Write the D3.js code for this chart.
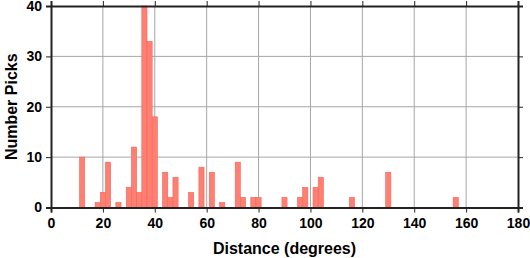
<!DOCTYPE html>
<html>
<head>
<meta charset="utf-8">
<script src="https://cdn.jsdelivr.net/npm/d3@7"></script>
<style>
  body { margin: 0; background: #fff; }
  text { font-family: "Liberation Sans", Arial, Helvetica, sans-serif; font-weight: bold; }
</style>
</head>
<body>
<svg id="hist" width="530" height="258"></svg>
<script>
// bin centres (degrees) and pick counts, 2 degree bins
var binCenters = [12, 18, 20, 22, 26, 30, 32, 34, 36, 38, 40, 44, 46, 48, 54, 58, 62, 66,
                  72, 74, 78, 80, 90, 96, 98, 102, 104, 116, 130, 156];
var binCounts  = [10, 1, 3, 9, 1, 4, 12, 3, 40, 33, 18, 7, 2, 6, 3, 8, 7, 1,
                  9, 2, 2, 2, 2, 2, 4, 4, 6, 2, 7, 2];
var binWidth = 2;
var xTicks = [0, 20, 40, 60, 80, 100, 120, 140, 160, 180];
var yTicks = [0, 10, 20, 30, 40];

var svg = d3.select("#hist"),
    margin = {top: 6, right: 12, bottom: 50.5, left: 51},
    width = +svg.attr("width") - margin.left - margin.right,
    height = +svg.attr("height") - margin.top - margin.bottom;

var g = svg.append("g").attr("transform", "translate(" + margin.left + "," + margin.top + ")");

var x = d3.scaleLinear().domain([0, 180]).range([0, width]);
var y = d3.scaleLinear().domain([0, 40]).range([height, 0]);

// grid
g.append("g").selectAll("line").data(xTicks.slice(1, -1)).enter().append("line")
    .attr("x1", function(d) { return x(d); }).attr("x2", function(d) { return x(d); })
    .attr("y1", 0).attr("y2", height)
    .attr("stroke", "#a6a6a6").attr("stroke-width", 1);
g.append("g").selectAll("line").data(yTicks.slice(1, -1)).enter().append("line")
    .attr("y1", function(d) { return y(d); }).attr("y2", function(d) { return y(d); })
    .attr("x1", 0).attr("x2", width)
    .attr("stroke", "#a6a6a6").attr("stroke-width", 1);

// bars
g.append("g").selectAll("rect").data(binCenters).enter().append("rect")
    .attr("x", function(d) { return x(d - binWidth / 2); })
    .attr("width", function(d) { return x(d + binWidth / 2) - x(d - binWidth / 2); })
    .attr("y", function(d, i) { return y(binCounts[i]); })
    .attr("height", function(d, i) { return y(0) - y(binCounts[i]); })
    .attr("fill", "#ff8073")
    .attr("stroke", "#f0675b")
    .attr("stroke-width", 0.6);

// frame with outward ticks on every side
g.append("g").attr("transform", "translate(0," + height + ")")
    .call(d3.axisBottom(x).tickValues(xTicks).tickSize(5).tickPadding(6))
    .call(function(a) { a.selectAll("text").attr("font-size", 14).attr("fill", "#000"); });
g.append("g")
    .call(d3.axisTop(x).tickValues(xTicks).tickSize(5).tickFormat(""));
g.append("g")
    .call(d3.axisLeft(y).tickValues(yTicks).tickSize(5).tickPadding(4))
    .call(function(a) { a.selectAll("text").attr("font-size", 14).attr("fill", "#000"); });
g.append("g").attr("transform", "translate(" + width + ",0)")
    .call(d3.axisRight(y).tickValues(yTicks).tickSize(5).tickFormat(""));

g.selectAll(".domain").attr("stroke", "#222").attr("stroke-width", 2);
g.selectAll(".tick line").attr("stroke", "#222").attr("stroke-width", 1);

// axis titles
svg.append("text")
    .attr("x", margin.left + width / 2).attr("y", 254)
    .attr("text-anchor", "middle").attr("font-size", 16)
    .text("Distance (degrees)");
svg.append("text")
    .attr("transform", "translate(17," + (margin.top + height / 2) + ") rotate(-90)")
    .attr("text-anchor", "middle").attr("font-size", 16)
    .text("Number Picks");
</script>
</body>
</html>
